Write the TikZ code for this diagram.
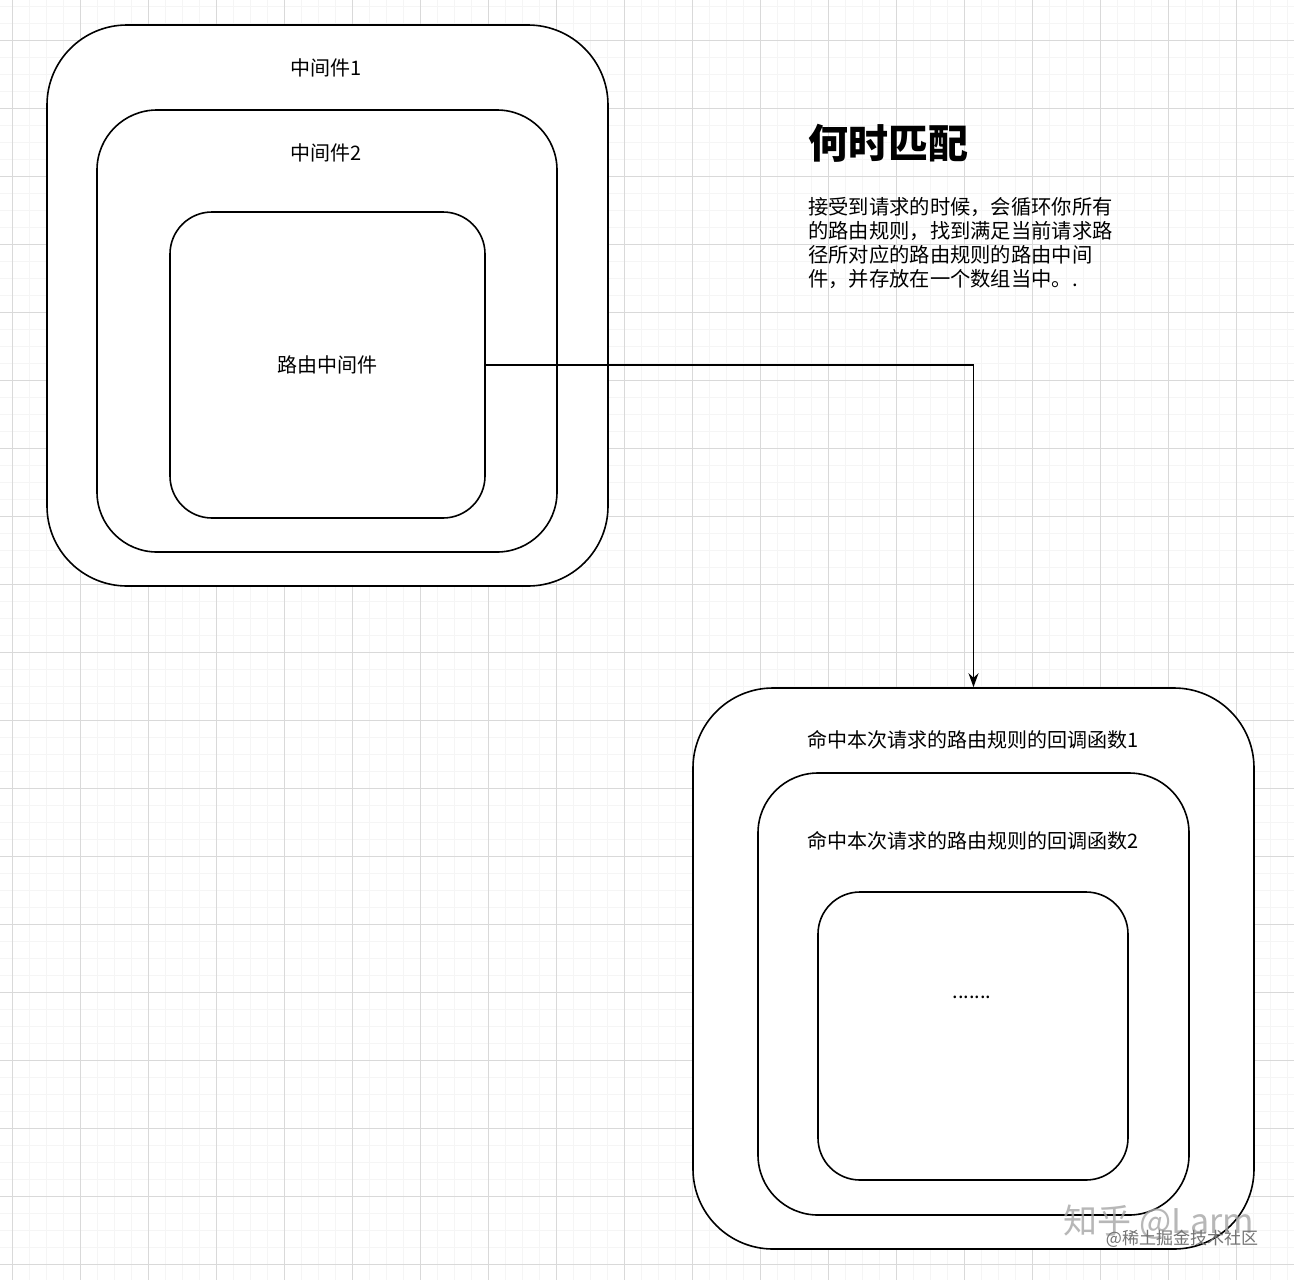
\documentclass[tikz,border=0pt]{standalone}
\usepackage{fontspec}
\setmainfont{Noto Sans CJK SC}
\usetikzlibrary{arrows.meta,positioning}

\begin{document}
\begin{tikzpicture}[
            x=1pt, y=-1pt,
            box/.style={draw, line width=1.6pt, fill=white, rounded corners=#1, inner sep=0pt},
            box/.default=80pt,
            lab/.style={draw=none, fill=none, font=\fontsize{20}{24}\selectfont},
            arr/.style={-{Stealth[length=14pt, width=10pt]}, line width=1.4pt},
            minor/.style={draw=black!4, line width=0.8pt},
            major/.style={draw=black!15, line width=0.9pt}
        ]

% --- canvas and grid ---
            \useasboundingbox[fill=white] (0,0) rectangle (1294,1280);
            \foreach \i in {0,...,76} \draw[minor] ({-4.7+17*\i},0) -- ({-4.7+17*\i},1280);
            \foreach \i in {0,...,75} \draw[minor] (0,{6.5+17*\i}) -- (1294,{6.5+17*\i});
            \foreach \i in {0,...,18} \draw[major] ({12.3+68*\i},0) -- ({12.3+68*\i},1280);
            \foreach \i in {0,...,18} \draw[major] (0,{40.5+68*\i}) -- (1294,{40.5+68*\i});

% --- left nest of middlewares ---
            \node[box, minimum width=561pt, minimum height=561pt] (mw1) at (327.5,305.5) {};
            \node[box=60pt, minimum width=460pt, minimum height=442pt] (mw2) at (327,331) {};
            \node[box=42pt, minimum width=315pt, minimum height=306pt, font=\fontsize{20}{24}\selectfont] (route) at (327.5,365) {路由中间件};

            \node[lab] (mw1lab) at (326,68) {中间件1};
            \node[lab] (mw2lab) at (326,153) {中间件2};

% --- right nest of callbacks ---
            \node[box, minimum width=561pt, minimum height=561pt] (cb1) at (973.5,968.5) {};
            \node[box=60pt, minimum width=431pt, minimum height=442pt] (cb2) at (973.5,994) {};
            \node[box=42pt, minimum width=310pt, minimum height=288pt] (cbn) at (973,1036) {};

            \node[lab] (cb1lab) at (973,740) {命中本次请求的路由规则的回调函数1};
            \node[lab] (cb2lab) at (973,841) {命中本次请求的路由规则的回调函数2};
            \node[lab] (cbnlab) at (972,997) {.......};

% --- connector ---
            \draw[arr] (route.east) -| (cb1.north);

% --- note ---
            \node[lab, anchor=west, font=\fontsize{40}{48}\selectfont\bfseries] (title) at (805,143) {何时匹配};
            \node[lab, anchor=north west, align=left, inner sep=0pt, font=\fontsize{20.3}{24}\selectfont] (desc) at (808,197)
                {接受到请求的时候，会循环你所有\\的路由规则，找到满足当前请求路\\径所对应的路由规则的路由中间\\件，并存放在一个数组当中。.};

% --- watermark ---
            \node[lab, text=black!35, opacity=0.8, font=\fontsize{34}{34}\selectfont] (wm1) at (1159,1222) {知乎 @Larm};
            \node[lab, text=black!55, font=\fontsize{17}{17}\selectfont] (wm2) at (1182,1239) {@稀土掘金技术社区};

        \end{tikzpicture}
\end{document}
